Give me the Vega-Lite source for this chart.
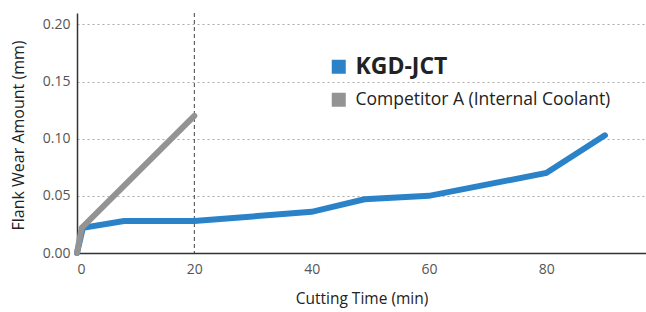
{
  "$schema": "https://vega.github.io/schema/vega-lite/v6.json",
  "autosize": {"type": "none"},
  "padding": {"left": 77, "top": 13, "right": 0, "bottom": 59},
  "width": 569,
  "height": 240,
  "background": "white",
  "config": {
    "view": {"stroke": null},
    "font": "Open Sans"
  },
  "datasets": {
    "wear": [
      {"time": 0, "wear": 0.0, "tool": "KGD-JCT"},
      {"time": 1, "wear": 0.022, "tool": "KGD-JCT"},
      {"time": 8, "wear": 0.028, "tool": "KGD-JCT"},
      {"time": 20, "wear": 0.028, "tool": "KGD-JCT"},
      {"time": 40, "wear": 0.036, "tool": "KGD-JCT"},
      {"time": 49, "wear": 0.047, "tool": "KGD-JCT"},
      {"time": 60, "wear": 0.05, "tool": "KGD-JCT"},
      {"time": 80, "wear": 0.07, "tool": "KGD-JCT"},
      {"time": 90, "wear": 0.103, "tool": "KGD-JCT"},
      {"time": 0, "wear": 0.0, "tool": "Competitor A (Internal Coolant)"},
      {"time": 0.8, "wear": 0.022, "tool": "Competitor A (Internal Coolant)"},
      {"time": 20, "wear": 0.12, "tool": "Competitor A (Internal Coolant)"}
    ],
    "marker": [{"time": 20}]
  },
  "layer": [
    {
      "data": {"name": "marker"},
      "mark": {"type": "rule", "color": "#444", "strokeDash": [4, 3], "strokeWidth": 1},
      "encoding": {
        "x": {"field": "time", "type": "quantitative", "scale": {"domain": [0, 97]}}
      }
    },
    {
      "data": {"name": "wear"},
      "mark": {"type": "line", "strokeWidth": 6, "strokeCap": "round", "strokeJoin": "miter"},
      "encoding": {
        "x": {
          "field": "time", "type": "quantitative",
          "scale": {"domain": [0, 97], "nice": false},
          "axis": {
            "values": [0, 20, 40, 60, 80],
            "title": "Cutting Time (min)",
            "grid": false, "ticks": false, "domainColor": "#333", "domainWidth": 1.5,
            "labelColor": "#555", "labelFontSize": 14, "labelPadding": 9, "labelFontWeight": "normal",
            "titleColor": "#222", "titleFontSize": 15.5, "titleFontWeight": "normal",
            "titleY": 45, "titleBaseline": "middle"
          }
        },
        "y": {
          "field": "wear", "type": "quantitative",
          "scale": {"domain": [0, 0.21], "nice": false},
          "axis": {
            "values": [0, 0.05, 0.1, 0.15, 0.2],
            "format": ".2f",
            "title": "Flank Wear Amount (mm)",
            "ticks": false, "domainColor": "#333", "domainWidth": 1.5,
            "grid": true, "gridColor": "#aaa", "gridDash": [2, 3], "gridWidth": 1.2,
            "labelColor": "#555", "labelFontSize": 14, "labelPadding": 7,
            "titleColor": "#222", "titleFontSize": 16, "titleFontWeight": "normal",
            "titleX": -59, "titleY": 122, "titleBaseline": "middle", "titleAlign": "center"
          }
        },
        "color": {
          "field": "tool", "type": "nominal",
          "scale": {
            "domain": ["KGD-JCT", "Competitor A (Internal Coolant)"],
            "range": ["#2a82c8", "#939393"]
          },
          "legend": {
            "title": null,
            "orient": "none",
            "legendX": 253,
            "legendY": 45,
            "symbolType": "square",
            "symbolSize": 196,
            "symbolStrokeWidth": 0,
            "rowPadding": 11,
            "labelOffset": 8,
            "labelColor": "#222",
            "labelLimit": 400,
            "encode": {
              "labels": {
                "update": {
                  "fontSize": {"signal": "datum.label == 'KGD-JCT' ? 23 : 17.5"},
                  "fontWeight": {"signal": "datum.label == 'KGD-JCT' ? 'bold' : 'normal'"}
                }
              },
              "symbols": {
                "update": {
                  "fill": {"signal": "datum.value == 'KGD-JCT' ? '#2a82c8' : '#939393'"},
                  "fillOpacity": {"value": 1},
                  "strokeOpacity": {"value": 0}
                }
              }
            }
          }
        },
        "order": {"field": "tool", "sort": "descending"}
      }
    }
  ]
}
